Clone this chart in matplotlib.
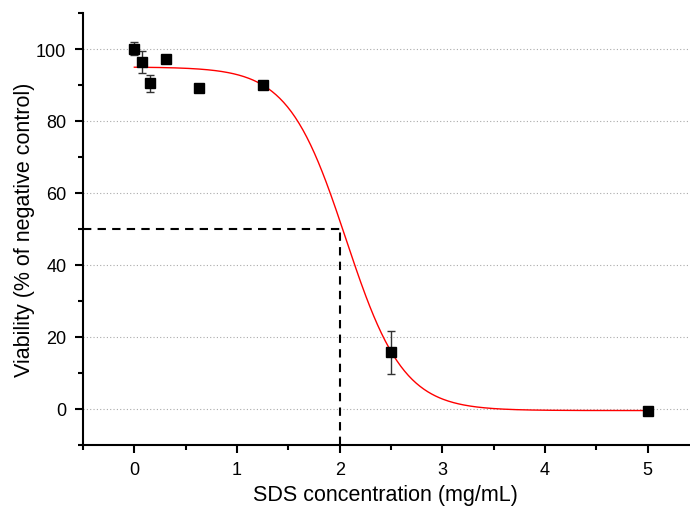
import numpy as np
import matplotlib
matplotlib.use('Agg')
import matplotlib.pyplot as plt
from matplotlib.ticker import MultipleLocator

plt.rcParams['font.family'] = ['Liberation Sans', 'DejaVu Sans']

# measured data
conc = [0.0, 0.078, 0.156, 0.3125, 0.625, 1.25, 2.5, 5.0]
viability = [100.1, 96.3, 90.5, 97.1, 89.2, 90.0, 15.7, -0.6]
viability_err = [1.9, 3.1, 2.4, 0.0, 0.0, 0.0, 6.0, 0.0]

# Boltzmann fit parameters
A1, A2, X0, DX = 95.0, -0.5, 2.06, 0.28
IC50 = 2.0

fig = plt.figure(figsize=(6.9, 5.1), dpi=100)
ax = fig.add_axes([0.1203, 0.126, 0.878, 0.8465])

# fitted curve
xfit = np.linspace(0, 5, 400)
yfit = A2 + (A1 - A2) / (1 + np.exp((xfit - X0) / DX))
ax.plot(xfit, yfit, color='red', linewidth=1.0, zorder=3)

# data points with error bars
ax.errorbar(conc, viability, yerr=viability_err, fmt='s', color='black',
            markersize=6.5, ecolor='#333333', elinewidth=1.0, capsize=3,
            capthick=1.0, zorder=4)

# IC50 guide lines
ax.plot([-0.5, IC50], [50, 50], color='black', linestyle=(0, (4, 3)), linewidth=1.5, zorder=2)
ax.plot([IC50, IC50], [-10, 50], color='black', linestyle=(0, (4, 3)), linewidth=1.5, zorder=2)

ax.set_xlim(-0.5, 5.4)
ax.set_ylim(-10, 110)
ax.xaxis.set_major_locator(MultipleLocator(1))
ax.xaxis.set_minor_locator(MultipleLocator(0.5))
ax.set_yticks([0, 20, 40, 60, 80, 100])
ax.yaxis.set_minor_locator(MultipleLocator(10))
ax.yaxis.grid(True, which='major', linestyle=(0, (1, 2)), color='#aaaaaa', linewidth=0.8)
ax.set_axisbelow(True)

for side in ['top', 'right']:
    ax.spines[side].set_visible(False)
for side in ['left', 'bottom']:
    ax.spines[side].set_linewidth(1.5)

ax.tick_params(which='major', direction='out', length=6, width=1.5, labelsize=13, pad=6)
ax.tick_params(which='minor', direction='out', length=3.5, width=1.5)

ax.set_xlabel('SDS concentration (mg/mL)', fontsize=15.5)
ax.set_ylabel('Viability (% of negative control)', fontsize=15.5)
ax.xaxis.set_label_coords(0.5, -0.092)
ax.yaxis.set_label_coords(-0.08, 0.5)

plt.savefig('out.png', dpi=100)
plt.close()
